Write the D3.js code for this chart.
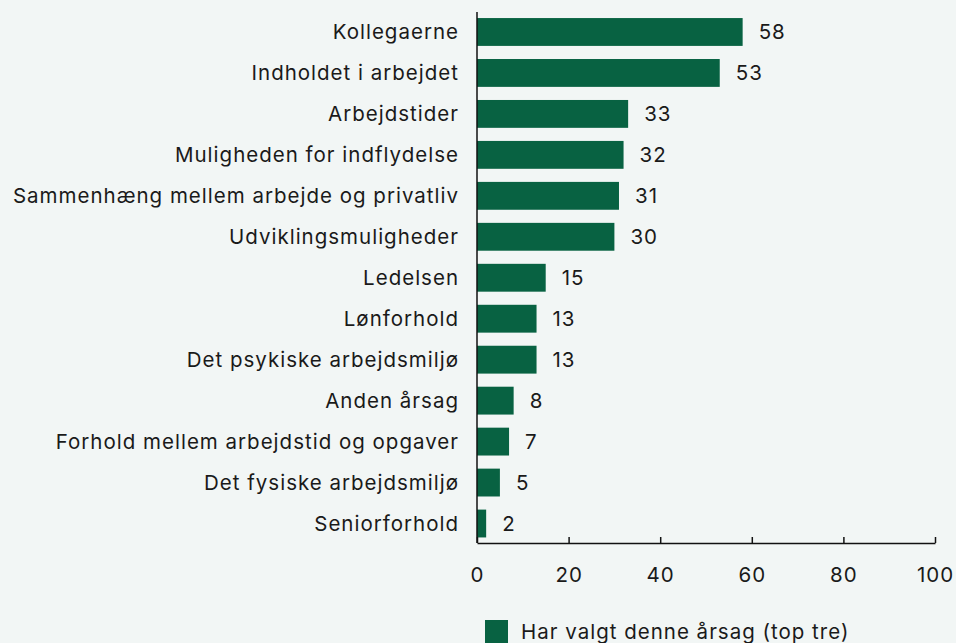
<!DOCTYPE html>
<html>
<head>
<meta charset="utf-8">
<script src="https://cdn.jsdelivr.net/npm/d3@7"></script>
<style>
  html, body { margin: 0; padding: 0; background: #f2f6f5; }
  svg { display: block; font-family: Inter, "Open Sans", sans-serif; letter-spacing: 1px; }
</style>
</head>
<body>
<svg id="chart" width="956" height="643"></svg>
<script>
// chart data
const categories = [
    "Kollegaerne",
    "Indholdet i arbejdet",
    "Arbejdstider",
    "Muligheden for indflydelse",
    "Sammenhæng mellem arbejde og privatliv",
    "Udviklingsmuligheder",
    "Ledelsen",
    "Lønforhold",
    "Det psykiske arbejdsmiljø",
    "Anden årsag",
    "Forhold mellem arbejdstid og opgaver",
    "Det fysiske arbejdsmiljø",
    "Seniorforhold"
];
const values = [58, 53, 33, 32, 31, 30, 15, 13, 13, 8, 7, 5, 2];
const xTicks = [0, 20, 40, 60, 80, 100];
const legendLabel = "Har valgt denne årsag (top tre)";

const barColor = "#086242";
const textColor = "#1a1a1a";
const fontSize = 20.5;

const svg = d3.select("#chart");

const plotLeft = 477, plotRight = 935, plotTop = 11.5, plotBottom = 544;
const axisY = 543;

const x = d3.scaleLinear().domain([0, 100]).range([plotLeft, plotRight]);
const y = d3.scaleBand().domain(categories).range([plotTop, plotBottom]).paddingInner(0.32).paddingOuter(0.16);

// bars
svg.append("g")
    .selectAll("rect")
    .data(values)
    .join("rect")
    .attr("x", x(0))
    .attr("y", (d, i) => y(categories[i]))
    .attr("width", d => x(d) - x(0))
    .attr("height", y.bandwidth())
    .attr("fill", barColor);

// value labels
svg.append("g")
    .selectAll("text")
    .data(values)
    .join("text")
    .attr("x", d => x(d) + 16)
    .attr("y", (d, i) => y(categories[i]) + y.bandwidth() / 2)
    .attr("dy", "0.36em")
    .attr("font-size", fontSize)
    .attr("fill", textColor)
    .text(d => d);

// category labels
svg.append("g")
    .selectAll("text")
    .data(categories)
    .join("text")
    .attr("x", plotLeft - 18)
    .attr("y", d => y(d) + y.bandwidth() / 2)
    .attr("dy", "0.36em")
    .attr("text-anchor", "end")
    .attr("font-size", fontSize)
    .attr("fill", textColor)
    .text(d => d);

// y axis line
svg.append("line")
    .attr("x1", plotLeft).attr("x2", plotLeft)
    .attr("y1", 12).attr("y2", axisY)
    .attr("stroke", "#111").attr("stroke-width", 1.5);

// x axis (ticks pointing up)
const xAxis = d3.axisBottom(x).tickValues(xTicks).tickSize(-6).tickSizeOuter(0).tickPadding(24);
const gx = svg.append("g")
    .attr("transform", `translate(0, ${axisY})`)
    .call(xAxis);
gx.select(".domain").attr("stroke", "#111").attr("stroke-width", 1.5);
gx.selectAll(".tick line").attr("stroke", "#111").attr("stroke-width", 1.5);
gx.selectAll(".tick text")
    .attr("font-size", fontSize)
    .attr("font-family", "Inter, 'Open Sans', sans-serif")
    .attr("fill", textColor);

// legend
svg.append("rect")
    .attr("x", 485).attr("y", 620)
    .attr("width", 23).attr("height", 23)
    .attr("fill", barColor);
svg.append("text")
    .attr("x", 521).attr("y", 639)
    .attr("font-size", fontSize)
    .attr("fill", textColor)
    .text(legendLabel);
</script>
</body>
</html>
